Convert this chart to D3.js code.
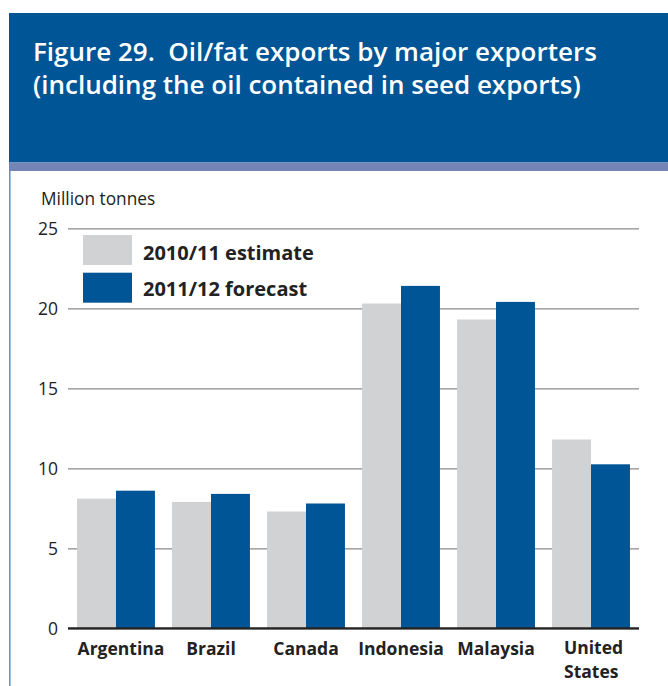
<!DOCTYPE html>
<html><head><meta charset="utf-8">
<script src="https://cdn.jsdelivr.net/npm/d3@7/dist/d3.min.js"></script>
<style>html,body{margin:0;padding:0;background:#fff;}svg{display:block;}</style>
</head><body>
<script>
const categories = ["Argentina","Brazil","Canada","Indonesia","Malaysia","United States"];
const seriesNames = ["2010/11 estimate","2011/12 forecast"];
const estimate2010 = [8.1, 7.9, 7.3, 20.3, 19.3, 11.8];
const forecast2011 = [8.6, 8.4, 7.8, 21.4, 20.4, 10.25];
const yTicks = [0, 5, 10, 15, 20, 25];
const colors = ["#d1d2d4", "#005596"];

const W = 668, H = 686;
const svg = d3.select("body").append("svg").attr("width", W).attr("height", H);
const font = "'Open Sans', 'Noto Sans', sans-serif";

// header
svg.append("rect").attr("x", 9).attr("y", 13).attr("width", W - 9).attr("height", 149.5).attr("fill", "#005596");
svg.append("rect").attr("x", 9).attr("y", 162.5).attr("width", W - 9).attr("height", 8.5).attr("fill", "#7484b6");
svg.append("rect").attr("x", 9).attr("y", 171).attr("width", 1.6).attr("height", H - 171).attr("fill", "#6a98bd");

const title = svg.append("text").attr("fill", "#fff").attr("font-family", font)
  .attr("font-weight", 600).attr("font-size", 26);
title.append("tspan").attr("x", 33).attr("y", 61).text("Figure 29.\u00a0 Oil/fat exports by major exporters");
title.append("tspan").attr("x", 33).attr("y", 93.5).text("(including the oil contained in seed exports)");

svg.append("text").attr("x", 41).attr("y", 205).attr("font-family", font).attr("font-size", 17.3)
  .attr("fill", "#222").text("Million tonnes");

const y = d3.scaleLinear().domain([0, 25]).range([628.3, 228.3]);
const x0 = d3.scaleBand().domain(categories).range([68, 639]).paddingInner(0.18).paddingOuter(0.095);
const x1 = d3.scaleBand().domain(seriesNames).range([0, x0.bandwidth()]);

// grid
const yAxis = d3.axisLeft(y).tickValues(yTicks).tickSize(-(639 - 68)).tickPadding(10).tickFormat(d3.format("d"));
const gy = svg.append("g").attr("transform", "translate(68,0)").call(yAxis);
gy.select(".domain").remove();
gy.selectAll(".tick line").attr("stroke", "#8a8a8a").attr("stroke-width", 1.3);
gy.selectAll(".tick text").attr("font-family", font).attr("font-size", 17.5).attr("fill", "#222").attr("dy", "0.34em");

// bars
const data = categories.map((c, i) => ({c, vals: [estimate2010[i], forecast2011[i]]}));
const g = svg.append("g");
g.selectAll("g.grp").data(data).join("g").attr("class", "grp")
  .attr("transform", d => `translate(${x0(d.c)},0)`)
  .selectAll("rect").data(d => d.vals.map((v, k) => ({v, k})))
  .join("rect")
  .attr("x", d => x1(seriesNames[d.k]))
  .attr("width", x1.bandwidth())
  .attr("y", d => y(d.v))
  .attr("height", d => y(0) - y(d.v))
  .attr("fill", d => colors[d.k]);

// baseline
svg.append("line").attr("x1", 68).attr("x2", 639).attr("y1", y(0)).attr("y2", y(0))
  .attr("stroke", "#222").attr("stroke-width", 2.2);

// x labels
const xg = svg.append("g");
categories.forEach((d, i) => {
  const cx = x0(d) + x0.bandwidth() / 2;
  const parts = d === "United States" ? ["United", "States"] : [d];
  parts.forEach((p, k) => {
    xg.append("text")
      .attr("font-family", font).attr("font-weight", 700)
      .attr("font-size", 17.5).attr("fill", "#222")
      .attr("text-anchor", parts.length > 1 ? "start" : "middle")
      .attr("x", parts.length > 1 ? cx - 27 : cx + (i === 0 ? 5 : 0))
      .attr("y", parts.length > 1 ? 654 + k * 23.5 : 655)
      .text(p);
  });
});

// legend
const lg = svg.append("g");
seriesNames.forEach((s, i) => {
  lg.append("rect").attr("x", 83).attr("y", 235 + i * 37.7).attr("width", 49).attr("height", 30).attr("fill", colors[i]);
  lg.append("text").attr("x", 143).attr("y", 260 + i * 36).attr("font-family", font).attr("font-weight", 700)
    .attr("font-size", 20).attr("fill", "#222").text(s);
});
</script>
</body></html>
